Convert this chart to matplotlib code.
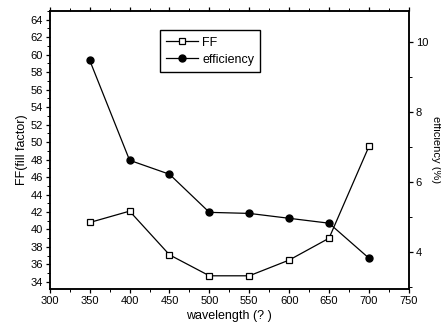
import matplotlib
matplotlib.use("Agg")
import matplotlib.pyplot as plt
from matplotlib.ticker import MultipleLocator

plt.rcParams['font.family'] = ['Liberation Sans', 'DejaVu Sans']

# data
wavelength = [350, 400, 450, 500, 550, 600, 650, 700]
ff = [40.8, 42.1, 37.1, 34.7, 34.7, 36.5, 39.0, 49.5]
efficiency = [9.49, 6.63, 6.23, 5.14, 5.11, 4.97, 4.83, 3.83]

fig = plt.figure(figsize=(4.41, 3.34), dpi=100)
ax = fig.add_axes([0.113, 0.135, 0.814, 0.832])
ax2 = ax.twinx()

l1, = ax.plot(wavelength, ff, color='black', lw=0.9, marker='s', ms=4.5,
              mfc='white', mec='black', mew=0.9, label='FF')
l2, = ax2.plot(wavelength, efficiency, color='black', lw=0.9, marker='o', ms=5,
               mfc='black', mec='black', label='efficiency')

ax.set_xlim(300, 750)
ax.set_ylim(33.2, 65)
ax2.set_ylim(2.95, 10.9)

ax.xaxis.set_major_locator(MultipleLocator(50))
ax.xaxis.set_minor_locator(MultipleLocator(25))
ax.yaxis.set_major_locator(MultipleLocator(2))
ax.yaxis.set_minor_locator(MultipleLocator(1))
ax2.yaxis.set_major_locator(MultipleLocator(2))
ax2.yaxis.set_minor_locator(MultipleLocator(1))

ax.tick_params(axis='both', which='major', direction='out', length=3, width=0.9, labelsize=8, pad=2)
ax.tick_params(axis='both', which='minor', direction='out', length=2, width=0.7)
ax.tick_params(axis='x', top=True, which='both')
ax2.tick_params(axis='y', which='major', direction='out', length=3, width=0.9, labelsize=8, pad=2)
ax2.tick_params(axis='y', which='minor', direction='out', length=2, width=0.7)

for a in (ax, ax2):
    for s in a.spines.values():
        s.set_linewidth(1.1)

ax.set_xlabel('wavelength (? )', fontsize=9, labelpad=3)
ax.set_ylabel('FF(fill factor)', fontsize=9, labelpad=2)
ax2.set_ylabel('efficiency (%)', fontsize=8, rotation=270, labelpad=9)

ax.legend([l1, l2], ['FF', 'efficiency'], loc='upper left',
          bbox_to_anchor=(0.306, 0.93), fontsize=9, frameon=True,
          fancybox=False, edgecolor='black', framealpha=1,
          handlelength=2.6, borderpad=0.5, labelspacing=0.4, handletextpad=0.3,
          borderaxespad=0)

fig.savefig('out.png', dpi=100)
